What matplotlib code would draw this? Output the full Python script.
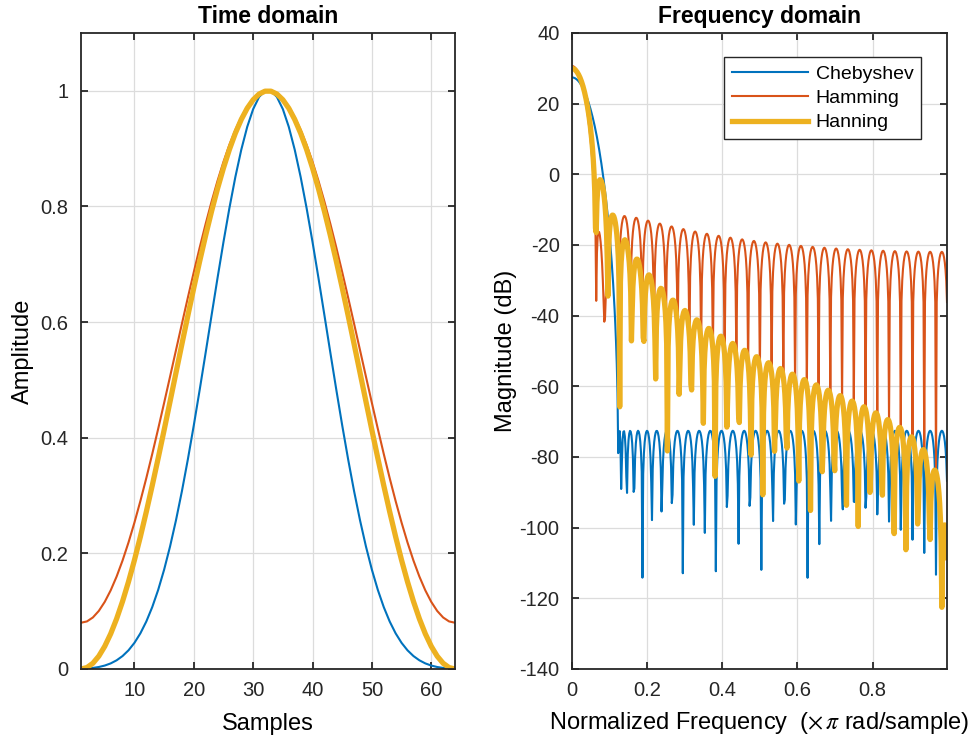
import numpy as np
import matplotlib

matplotlib.use("Agg")
import matplotlib.pyplot as plt

# 64-point windows (Chebyshev 100 dB, Hamming, Hanning)
chebyshev = [
    0.000380750, 0.000878369, 0.001843297, 0.003447798, 0.005956254, 0.009691338,
    0.015033090, 0.022413860, 0.032308562, 0.045219941, 0.061658869, 0.082120089,
    0.107054187, 0.136836986, 0.171737908, 0.211889123, 0.257257487, 0.307621328,
    0.362554043, 0.421416240, 0.483357761, 0.547330423, 0.612111721, 0.676339029,
    0.738553198, 0.797249770, 0.850935485, 0.898187295, 0.937710836, 0.968395244,
    0.989361269, 1.000000000, 1.000000000, 0.989361269, 0.968395244, 0.937710836,
    0.898187295, 0.850935485, 0.797249770, 0.738553198, 0.676339029, 0.612111721,
    0.547330423, 0.483357761, 0.421416240, 0.362554043, 0.307621328, 0.257257487,
    0.211889123, 0.171737908, 0.136836986, 0.107054187, 0.082120089, 0.061658869,
    0.045219941, 0.032308562, 0.022413860, 0.015033090, 0.009691338, 0.005956254,
    0.003447798, 0.001843297, 0.000878369, 0.000380750,
]
hamming = [
    0.080000000, 0.082285843, 0.089120656, 0.100436509, 0.116120943, 0.136018076,
    0.159930164, 0.187619556, 0.218811064, 0.253194691, 0.290428719, 0.330143098,
    0.371943129, 0.415413385, 0.460121838, 0.505624157, 0.551468118, 0.597198104,
    0.642359630, 0.686503859, 0.729192067, 0.770000000, 0.808522089, 0.844375485,
    0.877203861, 0.906680953, 0.932513806, 0.954445679, 0.972258606, 0.985775552,
    0.994862180, 0.999428184, 0.999428184, 0.994862180, 0.985775552, 0.972258606,
    0.954445679, 0.932513806, 0.906680953, 0.877203861, 0.844375485, 0.808522089,
    0.770000000, 0.729192067, 0.686503859, 0.642359630, 0.597198104, 0.551468118,
    0.505624157, 0.460121838, 0.415413385, 0.371943129, 0.330143098, 0.290428719,
    0.253194691, 0.218811064, 0.187619556, 0.159930164, 0.136018076, 0.116120943,
    0.100436509, 0.089120656, 0.082285843, 0.080000000,
]
hanning = [
    0.000000000, 0.002484612, 0.009913756, 0.022213597, 0.039261894, 0.060889213,
    0.086880613, 0.116977778, 0.150881591, 0.188255099, 0.228726868, 0.271894671,
    0.317329488, 0.364579766, 0.413175911, 0.462634953, 0.512465346, 0.562171852,
    0.611260467, 0.659243325, 0.705643552, 0.750000000, 0.791871836, 0.830842919,
    0.866525936, 0.898566254, 0.926645441, 0.950484434, 0.969846310, 0.984538643,
    0.994415413, 0.999378461, 0.999378461, 0.994415413, 0.984538643, 0.969846310,
    0.950484434, 0.926645441, 0.898566254, 0.866525936, 0.830842919, 0.791871836,
    0.750000000, 0.705643552, 0.659243325, 0.611260467, 0.562171852, 0.512465346,
    0.462634953, 0.413175911, 0.364579766, 0.317329488, 0.271894671, 0.228726868,
    0.188255099, 0.150881591, 0.116977778, 0.086880613, 0.060889213, 0.039261894,
    0.022213597, 0.009913756, 0.002484612, 0.000000000,
]
names = ["Chebyshev", "Hamming", "Hanning"]
colors = ["#0072BD", "#D95319", "#EDB120"]
widths = [1.5, 1.5, 3.8]

time_xticks = [10, 20, 30, 40, 50, 60]
time_yticks = [0, 0.2, 0.4, 0.6, 0.8, 1]
freq_xticks = [0, 0.2, 0.4, 0.6, 0.8]
freq_yticks = [-140, -120, -100, -80, -60, -40, -20, 0, 20, 40]
n_freq = 512

plt.rcParams["font.family"] = ["Liberation Sans", "DejaVu Sans"]
plt.rcParams["mathtext.fontset"] = "stix"
plt.rcParams["axes.unicode_minus"] = False


def style_axes(ax):
    for spine in ax.spines.values():
        spine.set_color("#262626")
        spine.set_linewidth(1.3)
    ax.tick_params(direction="in", length=5, width=1.3, colors="#262626",
                   labelsize=14.5, top=True, right=True, pad=9)
    ax.grid(True, color="#dcdcdc", linewidth=0.9)
    ax.set_axisbelow(True)


fig = plt.figure(figsize=(9.73, 7.37), dpi=100)
ax1 = fig.add_axes([81 / 973, 68 / 737, 374 / 973, 636 / 737])
ax2 = fig.add_axes([572 / 973, 68 / 737, 375 / 973, 636 / 737])

samples = np.arange(1, len(chebyshev) + 1)
freqs = np.arange(n_freq) / n_freq
for win, name, color, lw in zip([chebyshev, hamming, hanning], names, colors, widths):
    ax1.plot(samples, win, color=color, linewidth=lw)
    # magnitude response on n_freq points of [0, pi)
    resp = np.fft.fft(np.asarray(win), 2 * n_freq)[:n_freq]
    ax2.plot(freqs, 20 * np.log10(np.abs(resp)), color=color, linewidth=lw, label=name)

style_axes(ax1)
ax1.set_xlim(1, 64)
ax1.set_ylim(0, 1.1)
ax1.set_xticks(time_xticks)
ax1.set_yticks(time_yticks)
ax1.set_yticklabels([f"{v:g}" for v in time_yticks])
ax1.set_xlabel("Samples", fontsize=17, labelpad=9)
ax1.set_ylabel("Amplitude", fontsize=17, labelpad=5)
ax1.set_title("Time domain", fontsize=16.5, fontweight="bold", pad=7)

style_axes(ax2)
ax2.set_xlim(0, freqs[-1])
ax2.set_ylim(-140, 40)
ax2.set_xticks(freq_xticks)
ax2.set_xticklabels([f"{v:g}" for v in freq_xticks])
ax2.set_yticks(freq_yticks)
ax2.set_xlabel(r"Normalized Frequency  ($\times\,\pi$ rad/sample)", fontsize=17, labelpad=7)
ax2.set_ylabel("Magnitude (dB)", fontsize=17, labelpad=2)
ax2.set_title("Frequency domain", fontsize=16.5, fontweight="bold", pad=7)

leg = ax2.legend(loc="upper right", bbox_to_anchor=(0.931, 0.962), fontsize=14,
                 handlelength=3.9, handletextpad=0.4, fancybox=False, framealpha=1,
                 borderaxespad=0, labelspacing=0.35, borderpad=0.4)
leg.get_frame().set_edgecolor("#262626")
leg.get_frame().set_linewidth(1.0)

fig.savefig("out.png")
